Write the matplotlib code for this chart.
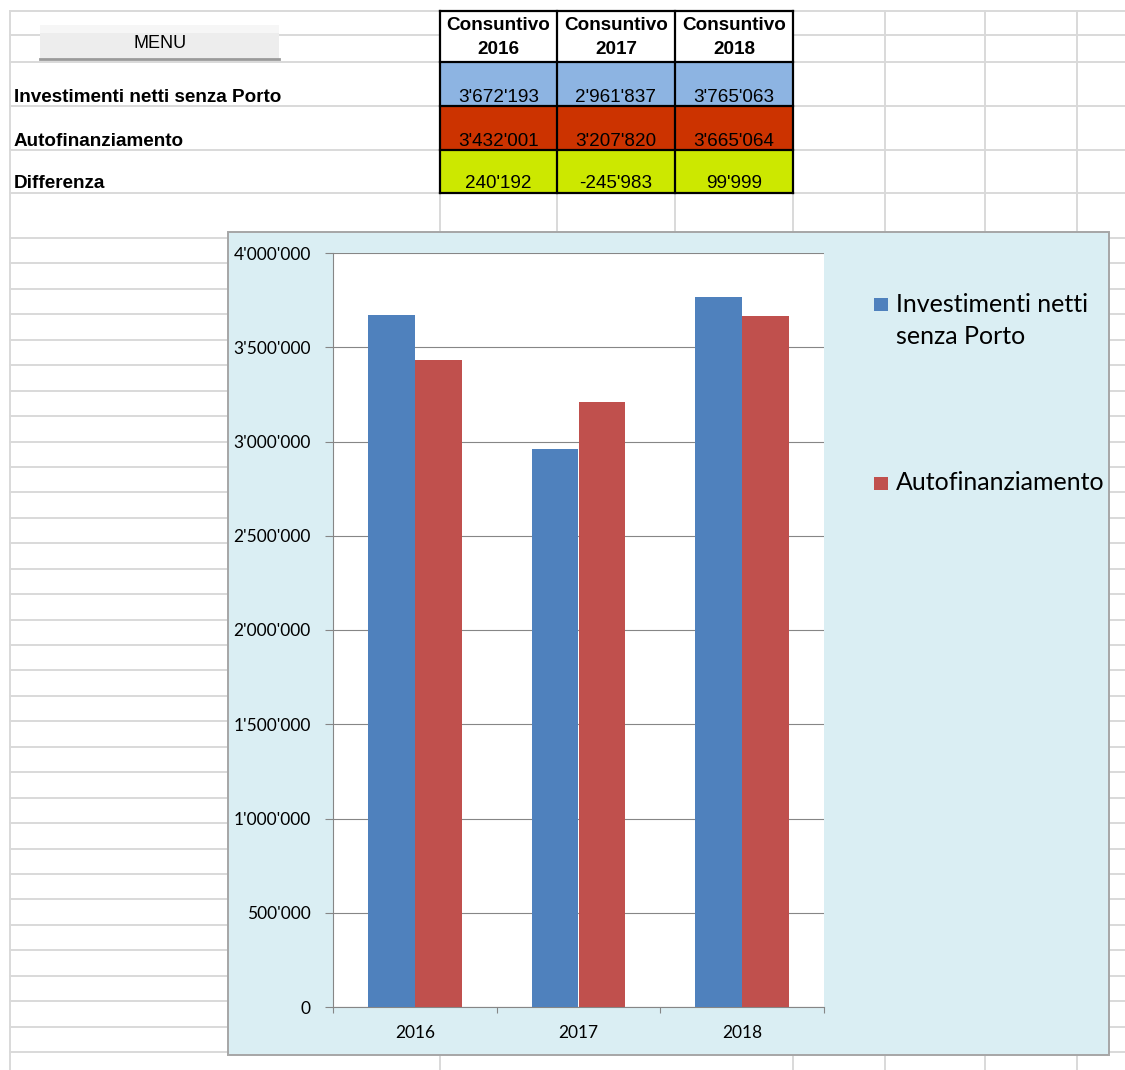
import numpy as np
import matplotlib
matplotlib.use("Agg")
import matplotlib.pyplot as plt
from matplotlib.patches import Rectangle
from matplotlib.ticker import FuncFormatter, MultipleLocator

# Data (from the sheet)
years = ["2016", "2017", "2018"]
row_names = ["Investimenti netti senza Porto", "Autofinanziamento", "Differenza"]
investimenti = [3672193, 2961837, 3765063]
autofinanziamento = [3432001, 3207820, 3665064]
differenza = [240192, -245983, 99999]
legend_labels = ["Investimenti netti\nsenza Porto", "Autofinanziamento"]

bar_colors = ["#4F81BD", "#C0504D"]
cell_colors = ["#8DB4E2", "#CC3300", "#CCE800"]
GRID = "#D9D9D9"
AXIS_GRAY = "#868686"


def fmt(v):
    return f"{int(v):,}".replace(",", "'")


W, H = 1125, 1070
fig = plt.figure(figsize=(W / 100, H / 100), dpi=100)
fig.patch.set_facecolor("white")

# background "spreadsheet" in pixel coordinates
bg = fig.add_axes([0, 0, 1, 1])
bg.set_xlim(0, W)
bg.set_ylim(H, 0)
bg.axis("off")

# sheet grid
for y in [11, 62, 106, 150, 193]:
    bg.plot([10, W], [y, y], color=GRID, lw=1.4, zorder=1)
for x0, x1 in [(10, 40), (279, 440), (793, W)]:
    bg.plot([x0, x1], [35, 35], color=GRID, lw=1.4, zorder=1)
for k in range(33):
    y = 238 + 25.44 * k
    bg.plot([10, 228], [y, y], color=GRID, lw=1.4, zorder=1)
    bg.plot([1109, W], [y, y], color=GRID, lw=1.4, zorder=1)
bg.plot([10, 10], [11, H], color=GRID, lw=1.4, zorder=1)
for x in [440, 557, 675, 793, 885, 985, 1077]:
    bg.plot([x, x], [11, 232], color=GRID, lw=1.4, zorder=1)
for x in [440, 793, 885, 985, 1077]:
    bg.plot([x, x], [1055, H], color=GRID, lw=1.4, zorder=1)

# MENU button
bg.add_patch(Rectangle((40, 25), 239, 34, facecolor="#EDEDED", edgecolor="none", zorder=2))
bg.add_patch(Rectangle((40, 25), 239, 8, facecolor="#F6F6F6", edgecolor="none", zorder=2))
bg.plot([40, 279], [58.5, 58.5], color="#9A9A9A", lw=2, zorder=3)
bg.text(160, 43, "MENU", fontsize=13, family="Liberation Sans", ha="center", va="center", zorder=4)

# table
col_edges = [440, 557, 675, 793]
row_edges = [62, 106, 150, 193]
table_rows = [investimenti, autofinanziamento, differenza]
tfont = dict(family="Liberation Sans", fontsize=13.6)

for i, yr in enumerate(years):
    xc = (col_edges[i] + col_edges[i + 1]) / 2
    bg.text(xc, 24, "Consuntivo", ha="center", va="center_baseline", fontweight="bold", zorder=4, **tfont)
    bg.text(xc, 48, yr, ha="center", va="center_baseline", fontweight="bold", zorder=4, **tfont)

for r, (name, vals) in enumerate(zip(row_names, table_rows)):
    y0, y1 = row_edges[r], row_edges[r + 1]
    bg.text(14, y1 - 11, name, ha="left", va="center_baseline", fontweight="bold", zorder=4, **tfont)
    for i, v in enumerate(vals):
        x0, x1 = col_edges[i], col_edges[i + 1]
        bg.add_patch(Rectangle((x0, y0), x1 - x0, y1 - y0, facecolor=cell_colors[r],
                               edgecolor="none", zorder=2))
        bg.text((x0 + x1) / 2, y1 - 11, fmt(v), ha="center", va="center_baseline", zorder=4, **tfont)

# black borders
for y in [11, 62, 106, 150, 193]:
    bg.plot([440, 793], [y, y], color="black", lw=1.6, zorder=3, solid_capstyle="projecting")
for x in col_edges:
    bg.plot([x, x], [11, 193], color="black", lw=1.6, zorder=3, solid_capstyle="projecting")

# chart container
bg.add_patch(Rectangle((228, 232), 881, 823, facecolor="#DAEEF3", edgecolor="#A6A6A6",
                       lw=1.4, zorder=5))

# legend (manual, Excel-style)
lfont = dict(family="Lato", fontsize=18)
leg_y = [302, 481]
for lab, col, y in zip(legend_labels, bar_colors, leg_y):
    bg.add_patch(Rectangle((874, y - 4), 14, 13, facecolor=col, edgecolor="none", zorder=6))
    for j, line in enumerate(lab.split("\n")):
        bg.text(896, y + j * 33, line, ha="left", va="center_baseline", zorder=6, **lfont)

# plot area
ax = fig.add_axes([333 / W, 1 - 1007 / H, (824 - 333) / W, (1007 - 253) / H])
ax.set_zorder(10)
ax.set_facecolor("white")

x = np.arange(len(years))
bw = 1 / 3.5
ax.bar(x - bw / 2, investimenti, bw, color=bar_colors[0], label=row_names[0], zorder=3)
ax.bar(x + bw / 2, autofinanziamento, bw, color=bar_colors[1], label=row_names[1], zorder=3)

ax.set_xlim(-0.5, len(years) - 0.5)
ax.set_ylim(0, 4000000)
ax.yaxis.set_major_locator(MultipleLocator(500000))
ax.yaxis.set_major_formatter(FuncFormatter(lambda v, _: fmt(v)))
ax.grid(axis="y", color=AXIS_GRAY, lw=0.8)
ax.set_axisbelow(True)

ax.set_xticks(np.arange(len(years) + 1) - 0.5)
ax.set_xticklabels([])
ax.set_xticks(x, minor=True)
ax.set_xticklabels(years, minor=True, family="Lato", fontsize=12.5)
ax.tick_params(axis="x", which="major", length=4, color=AXIS_GRAY, direction="out")
ax.tick_params(axis="x", which="minor", length=0, pad=13)
ax.tick_params(axis="y", length=6, color=AXIS_GRAY, direction="out", pad=10)
for lbl in ax.get_yticklabels():
    lbl.set_family("Lato")
    lbl.set_fontsize(12.5)

for s in ["top", "right"]:
    ax.spines[s].set_visible(False)
for s in ["left", "bottom"]:
    ax.spines[s].set_color(AXIS_GRAY)
    ax.spines[s].set_linewidth(0.8)

fig.savefig("out.png", dpi=100, facecolor="white")
